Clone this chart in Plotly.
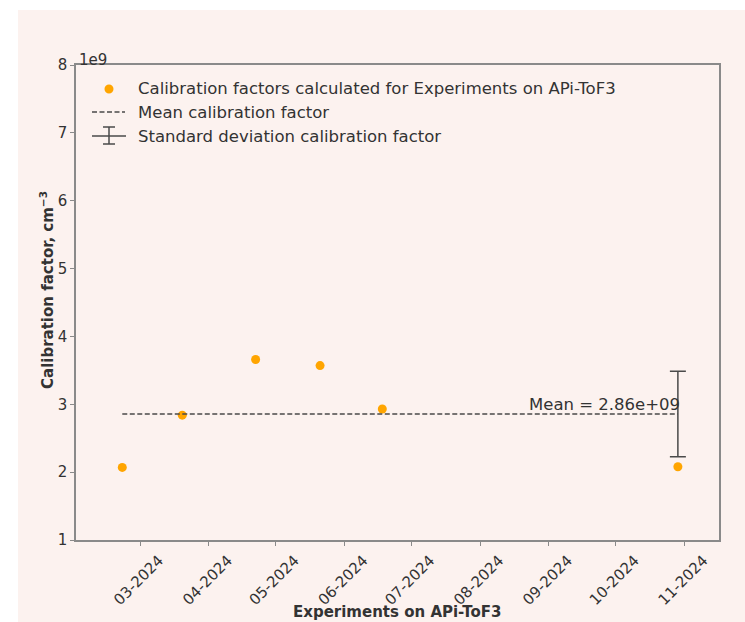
import plotly.graph_objects as go
import numpy as np
import pandas as pd

# ---- data ----
exp_dates = ["2024-02-22", "2024-03-20", "2024-04-22", "2024-05-21", "2024-06-18", "2024-10-29"]
calib_factors = [2.07e9, 2.84e9, 3.66e9, 3.57e9, 2.93e9, 2.08e9]
x_tick_vals = ["2024-03-01", "2024-04-01", "2024-05-01", "2024-06-01", "2024-07-01",
               "2024-08-01", "2024-09-01", "2024-10-01", "2024-11-01"]
x_tick_labels = ["03-2024", "04-2024", "05-2024", "06-2024", "07-2024",
                 "08-2024", "09-2024", "10-2024", "11-2024"]
y_tick_vals = [1e9, 2e9, 3e9, 4e9, 5e9, 6e9, 7e9, 8e9]
y_tick_labels = ["1", "2", "3", "4", "5", "6", "7", "8"]

mean_val = float(np.mean(calib_factors))
std_val = float(np.std(calib_factors))

# ---- layout geometry (pixels) ----
W, H = 745, 622
ML, MR, MT, MB = 76, 26, 65, 82
PW, PH = W - ML - MR, H - MT - MB

def px(x):
    return (x - ML) / PW

def py(y):
    return (H - MB - y) / PH

BG = "#fcf2ef"
TXT = "#333333"
AX = "#8a8a8a"
DARK = "#4a4a4a"
FONT = "DejaVu Sans"

fig = go.Figure()

fig.add_trace(go.Scatter(
    x=exp_dates, y=calib_factors, mode="markers",
    marker=dict(color="#ffa500", size=9, line=dict(width=0)),
    showlegend=False, hoverinfo="skip"))

fig.add_trace(go.Scatter(
    x=[exp_dates[0], exp_dates[-1]], y=[mean_val, mean_val], mode="lines",
    line=dict(color=DARK, width=1.5, dash="5px,2.5px"),
    showlegend=False, hoverinfo="skip"))

fig.add_trace(go.Scatter(
    x=[exp_dates[-1]], y=[mean_val], mode="markers",
    marker=dict(size=1, color="rgba(0,0,0,0)"),
    error_y=dict(type="data", array=[std_val], visible=True,
                 color=DARK, thickness=1.5, width=8),
    showlegend=False, hoverinfo="skip"))

shapes = []
# background (white strip at top and left as in the reference)
shapes.append(dict(type="rect", xref="paper", yref="paper", layer="below",
                   x0=px(18), x1=px(W + 5), y0=py(H + 5), y1=py(10),
                   fillcolor=BG, line=dict(width=0)))
# legend handles
shapes.append(dict(type="circle", xref="paper", yref="paper",
                   x0=px(104.5), x1=px(113.5), y0=py(93.5), y1=py(84.5),
                   fillcolor="#ffa500", line=dict(width=0)))
shapes.append(dict(type="line", xref="paper", yref="paper",
                   x0=px(92), x1=px(125), y0=py(112), y1=py(112),
                   line=dict(color=DARK, width=1.5, dash="5px,2.5px")))
shapes.append(dict(type="line", xref="paper", yref="paper",
                   x0=px(92), x1=px(126), y0=py(136), y1=py(136),
                   line=dict(color=DARK, width=1.5)))
shapes.append(dict(type="line", xref="paper", yref="paper",
                   x0=px(109), x1=px(109), y0=py(127), y1=py(144),
                   line=dict(color=DARK, width=1.5)))
for yy in (127, 144):
    shapes.append(dict(type="line", xref="paper", yref="paper",
                       x0=px(103), x1=px(115), y0=py(yy), y1=py(yy),
                       line=dict(color=DARK, width=1.5)))

annotations = []
legend_texts = ["Calibration factors calculated for Experiments on APi-ToF3",
                "Mean calibration factor",
                "Standard deviation calibration factor"]
for t, yy in zip(legend_texts, (88.5, 112, 136)):
    annotations.append(dict(text=t, xref="paper", yref="paper", x=px(136), y=py(yy),
                            xanchor="left", yanchor="middle", showarrow=False,
                            font=dict(family=FONT, size=16.5, color=TXT)))
annotations.append(dict(text=f"Mean = {mean_val:.2e}", xref="x", yref="y",
                        x=exp_dates[-1], y=mean_val, xanchor="right", yanchor="bottom",
                        showarrow=False, xshift=4, yshift=-2,
                        font=dict(family=FONT, size=16.5, color=TXT)))
annotations.append(dict(text="1e9", xref="paper", yref="paper", x=px(77), y=py(60),
                        xanchor="left", yanchor="middle", showarrow=False,
                        font=dict(family=FONT, size=15, color=TXT)))
annotations.append(dict(text="<b>Experiments on APi-ToF3</b>", xref="paper", yref="paper",
                        x=px(397), y=py(612), xanchor="center", yanchor="middle",
                        showarrow=False, font=dict(family=FONT, size=15, color=TXT)))
annotations.append(dict(text="<b>Calibration factor, cm<sup>\u22123</sup></b>",
                        xref="paper", yref="paper", x=px(47), y=py(290),
                        xanchor="center", yanchor="middle", textangle=-90,
                        showarrow=False, font=dict(family=FONT, size=15, color=TXT)))

fig.update_layout(
    width=W, height=H,
    margin=dict(l=ML, r=MR, t=MT, b=MB, pad=0),
    paper_bgcolor="white", plot_bgcolor=BG,
    font=dict(family=FONT, size=15, color=TXT),
    shapes=shapes, annotations=annotations,
    showlegend=False,
)
fig.update_xaxes(
    type="date", range=["2024-02-01 04:20", "2024-11-16 12:00"],
    tickvals=x_tick_vals, ticktext=x_tick_labels, tickangle=-45,
    ticklabelshift=19,
    showgrid=False, zeroline=False,
    showline=True, linecolor=AX, linewidth=1.5, mirror=True,
    ticks="outside", ticklen=4, tickcolor=AX, tickwidth=1,
    tickfont=dict(family=FONT, size=15, color=TXT))
fig.update_yaxes(
    range=[1e9, 8e9], tickvals=y_tick_vals, ticktext=y_tick_labels,
    showgrid=False, zeroline=False,
    showline=True, linecolor=AX, linewidth=1.5, mirror=True,
    ticks="outside", ticklen=4, tickcolor=AX, tickwidth=1,
    tickfont=dict(family=FONT, size=15, color=TXT))

fig.write_html("out.html")
